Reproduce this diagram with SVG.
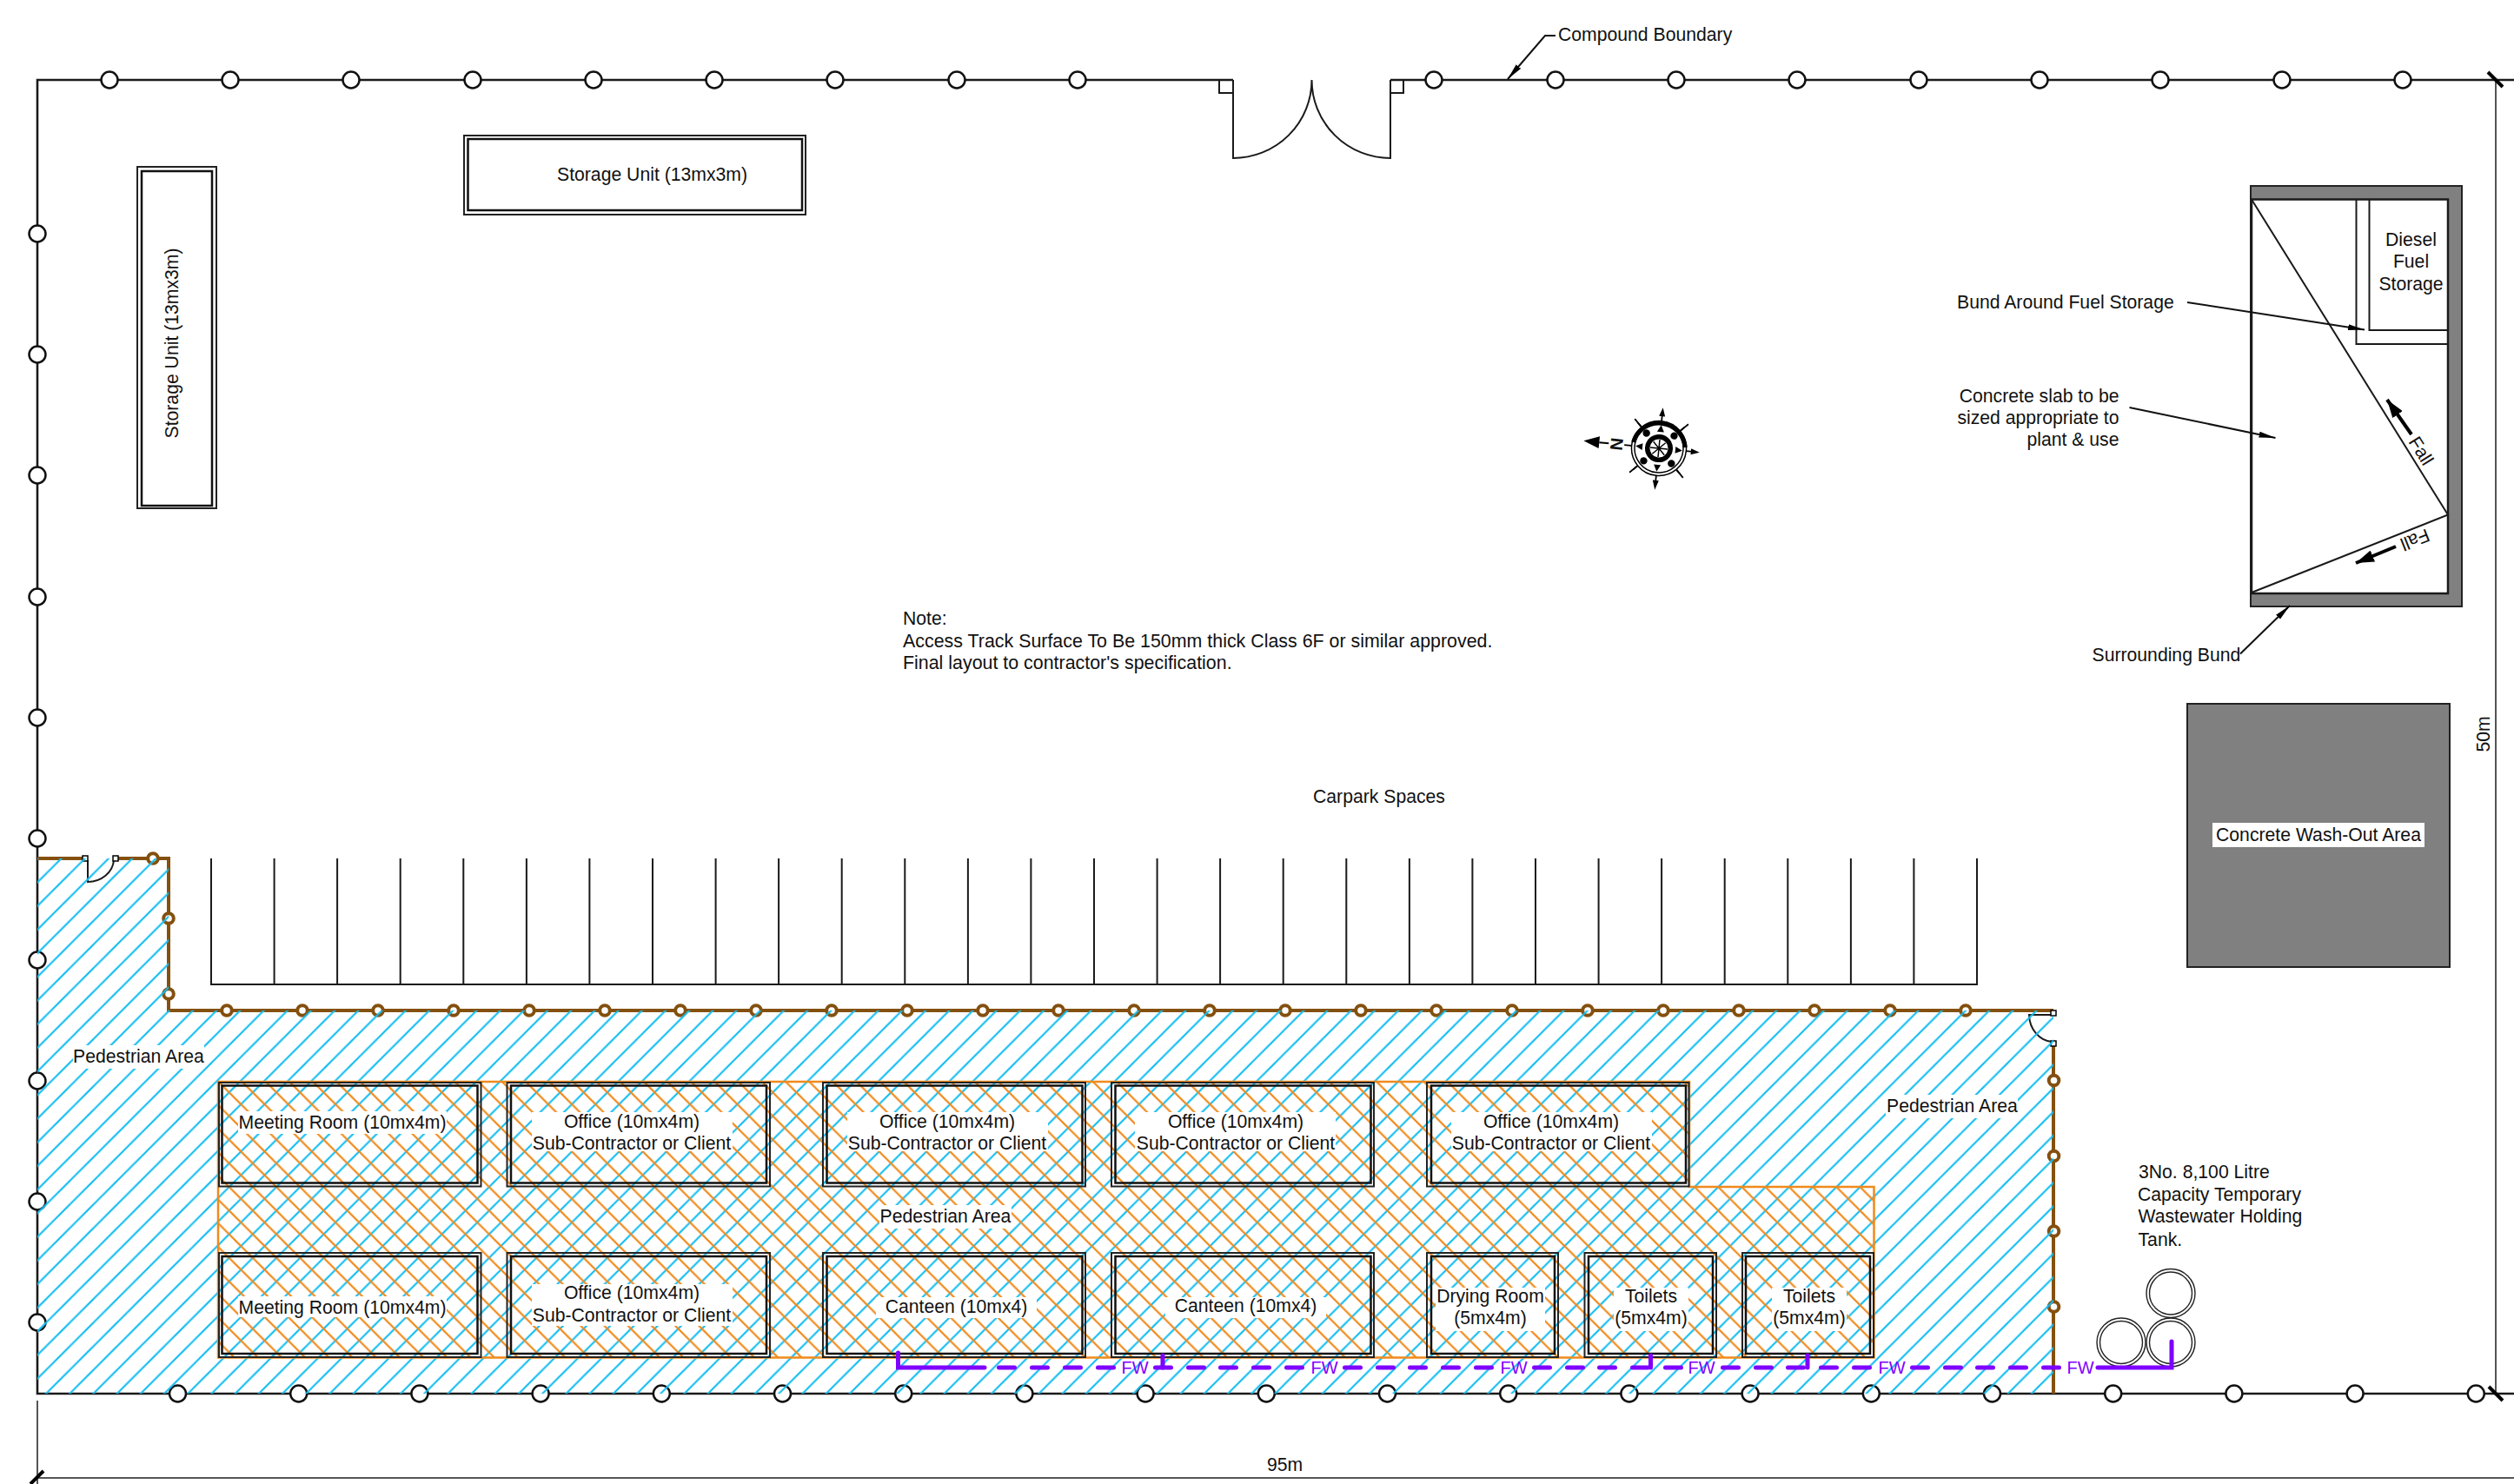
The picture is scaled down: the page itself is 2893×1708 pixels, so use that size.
<svg xmlns="http://www.w3.org/2000/svg" width="2893" height="1708" viewBox="0 0 2893 1708">
<style>
text{font-family:"Liberation Sans",Arial,sans-serif;font-size:21.2px;fill:#111}
.m{text-anchor:middle}.e{text-anchor:end}
.fw{font-size:20px;fill:#7f00ff;text-anchor:middle}
.b{fill:none;stroke:#1a1a1a;stroke-width:2.6}
.th{fill:none;stroke:#1a1a1a;stroke-width:2}
.g{fill:none;stroke:#555;stroke-width:2}
.tick{fill:none;stroke:#000;stroke-width:4}
.fc{fill:#fff;stroke:#111;stroke-width:2.5}
.br{fill:none;stroke:#84500f;stroke-width:4}
.bc{fill:#fff;stroke:#84500f;stroke-width:4}
.o{fill:none;stroke:#222;stroke-width:2}
.i{fill:none;stroke:#111;stroke-width:2.5}
.w{fill:#fff}
.p{fill:none;stroke:#7f00ff;stroke-width:5;stroke-linecap:round}
.tk{fill:none;stroke:#222;stroke-width:1.4}
.gr{fill:#808080;stroke:#222;stroke-width:2}
.ld{fill:none;stroke:#111;stroke-width:2;marker-end:url(#a)}
.fa{fill:none;stroke:#000;stroke-width:4;marker-end:url(#a2)}
</style>
<defs>
<marker id="a" markerUnits="userSpaceOnUse" markerWidth="20" markerHeight="8" refX="19" refY="4" orient="auto"><path d="M0 0.5L19 4L0 7.5Z" fill="#000"/></marker>
<marker id="a2" markerUnits="userSpaceOnUse" markerWidth="22" markerHeight="14" refX="21" refY="7" orient="auto"><path d="M0 0L21 7L0 14Z" fill="#000"/></marker>
<pattern id="hb" patternUnits="userSpaceOnUse" width="27.2" height="27.2">
<path d="M30 -5L-5 30M30 22.2L22.2 30" stroke="#14bdf2" stroke-width="2.2" fill="none"/>
</pattern>
<pattern id="ho" patternUnits="userSpaceOnUse" width="27.2" height="27.2">
<path d="M-5 9.4L30 44.4M7.8 -5L32.2 19.4" stroke="#f08a1c" stroke-width="2.2" fill="none"/>
</pattern>
</defs>
<rect width="2893" height="1708" fill="#fff"/>

<g id="compound-boundary">
<path class="b" d="M1419 92H43V1604H2893M1600 92H2893"/>
<path class="th" d="M1403 92V107H1419M1419 92V182A90.500 90 0 0 0 1509.500 92A90.500 90 0 0 0 1600 182V92M1600 107H1615V92"/>
<g>
<circle class="fc" cx="126" cy="92" r="9.500"/><circle class="fc" cx="265" cy="92" r="9.500"/><circle class="fc" cx="404" cy="92" r="9.500"/><circle class="fc" cx="544" cy="92" r="9.500"/><circle class="fc" cx="683" cy="92" r="9.500"/><circle class="fc" cx="822" cy="92" r="9.500"/><circle class="fc" cx="961" cy="92" r="9.500"/><circle class="fc" cx="1101" cy="92" r="9.500"/><circle class="fc" cx="1240" cy="92" r="9.500"/>
<circle class="fc" cx="1650" cy="92" r="9.500"/><circle class="fc" cx="1790" cy="92" r="9.500"/><circle class="fc" cx="1929" cy="92" r="9.500"/><circle class="fc" cx="2068" cy="92" r="9.500"/><circle class="fc" cx="2208" cy="92" r="9.500"/><circle class="fc" cx="2347" cy="92" r="9.500"/><circle class="fc" cx="2486" cy="92" r="9.500"/><circle class="fc" cx="2626" cy="92" r="9.500"/><circle class="fc" cx="2765" cy="92" r="9.500"/>
<circle class="fc" cx="43" cy="269" r="9.500"/><circle class="fc" cx="43" cy="408" r="9.500"/><circle class="fc" cx="43" cy="547" r="9.500"/><circle class="fc" cx="43" cy="687" r="9.500"/><circle class="fc" cx="43" cy="826" r="9.500"/><circle class="fc" cx="43" cy="965" r="9.500"/><circle class="fc" cx="43" cy="1105" r="9.500"/><circle class="fc" cx="43" cy="1244" r="9.500"/><circle class="fc" cx="43" cy="1383" r="9.500"/><circle class="fc" cx="43" cy="1522" r="9.500"/>
<circle class="fc" cx="204.500" cy="1604" r="9.500"/><circle class="fc" cx="343.700" cy="1604" r="9.500"/><circle class="fc" cx="482.900" cy="1604" r="9.500"/><circle class="fc" cx="622.100" cy="1604" r="9.500"/><circle class="fc" cx="761.300" cy="1604" r="9.500"/><circle class="fc" cx="900.500" cy="1604" r="9.500"/><circle class="fc" cx="1039.700" cy="1604" r="9.500"/><circle class="fc" cx="1178.900" cy="1604" r="9.500"/><circle class="fc" cx="1318.100" cy="1604" r="9.500"/><circle class="fc" cx="1457.300" cy="1604" r="9.500"/><circle class="fc" cx="1596.500" cy="1604" r="9.500"/><circle class="fc" cx="1735.700" cy="1604" r="9.500"/><circle class="fc" cx="1874.900" cy="1604" r="9.500"/><circle class="fc" cx="2014.100" cy="1604" r="9.500"/><circle class="fc" cx="2153.300" cy="1604" r="9.500"/><circle class="fc" cx="2292.500" cy="1604" r="9.500"/><circle class="fc" cx="2431.700" cy="1604" r="9.500"/><circle class="fc" cx="2570.900" cy="1604" r="9.500"/><circle class="fc" cx="2710.100" cy="1604" r="9.500"/><circle class="fc" cx="2849.300" cy="1604" r="9.500"/>
</g>
</g>

<g id="site-welfare-fence">
<path class="br" d="M43 988H97M134 988H194V1163H2363M2363 1202V1604"/>
<path class="th" d="M101 990V1015A30 27 0 0 0 131 990M2363 1168H2335A28 32 0 0 0 2361 1199"/>
<rect x="95" y="985" width="6" height="6" fill="#fff" stroke="#000" stroke-width="1.500"/><rect x="130" y="985" width="6" height="6" fill="#fff" stroke="#000" stroke-width="1.500"/>
<rect x="2360" y="1163" width="6" height="6" fill="#fff" stroke="#000" stroke-width="1.500"/><rect x="2360" y="1198" width="6" height="6" fill="#fff" stroke="#000" stroke-width="1.500"/>
<circle class="bc" cx="176" cy="988" r="5.800"/><circle class="bc" cx="194" cy="1057" r="5.800"/><circle class="bc" cx="194" cy="1144" r="5.800"/>
<circle class="bc" cx="261" cy="1163" r="5.800"/><circle class="bc" cx="348" cy="1163" r="5.800"/><circle class="bc" cx="435" cy="1163" r="5.800"/><circle class="bc" cx="522" cy="1163" r="5.800"/><circle class="bc" cx="609" cy="1163" r="5.800"/><circle class="bc" cx="696" cy="1163" r="5.800"/><circle class="bc" cx="783" cy="1163" r="5.800"/><circle class="bc" cx="870" cy="1163" r="5.800"/><circle class="bc" cx="957" cy="1163" r="5.800"/><circle class="bc" cx="1044" cy="1163" r="5.800"/><circle class="bc" cx="1131" cy="1163" r="5.800"/><circle class="bc" cx="1218" cy="1163" r="5.800"/><circle class="bc" cx="1305" cy="1163" r="5.800"/><circle class="bc" cx="1392" cy="1163" r="5.800"/><circle class="bc" cx="1479" cy="1163" r="5.800"/><circle class="bc" cx="1566" cy="1163" r="5.800"/><circle class="bc" cx="1653" cy="1163" r="5.800"/><circle class="bc" cx="1740" cy="1163" r="5.800"/><circle class="bc" cx="1827" cy="1163" r="5.800"/><circle class="bc" cx="1914" cy="1163" r="5.800"/><circle class="bc" cx="2001" cy="1163" r="5.800"/><circle class="bc" cx="2088" cy="1163" r="5.800"/><circle class="bc" cx="2175" cy="1163" r="5.800"/><circle class="bc" cx="2262" cy="1163" r="5.800"/>
<circle class="bc" cx="2363.500" cy="1243.500" r="5.800"/><circle class="bc" cx="2363.500" cy="1330.500" r="5.800"/><circle class="bc" cx="2363.500" cy="1417" r="5.800"/><circle class="bc" cx="2363.500" cy="1504" r="5.800"/>
</g>

<g id="hatching">
<path d="M43 988H194V1163H2363V1604H43Z" fill="url(#hb)"/>
<path d="M251 1245H1944V1366H2156.500V1562.500H251Z" fill="url(#ho)" stroke="#f08a1c" stroke-width="2.500"/>
</g>

<g id="text-backing">
<rect class="w" x="84" y="1203" width="151" height="27"/>
<rect class="w" x="2170" y="1260" width="152" height="27"/>
<rect class="w" x="1012" y="1387" width="152" height="27"/>
<rect class="w" x="274" y="1279" width="240" height="26"/>
<rect class="w" x="274" y="1492" width="240" height="24"/>
<rect class="w" x="612" y="1280" width="231" height="45"/>
<rect class="w" x="975" y="1280" width="231" height="45"/>
<rect class="w" x="1306" y="1280" width="231" height="45"/>
<rect class="w" x="1670" y="1280" width="231" height="45"/>
<rect class="w" x="612" y="1478" width="231" height="48"/>
<rect class="w" x="1008" y="1493" width="185" height="24"/>
<rect class="w" x="1341" y="1493" width="185" height="24"/>
<rect class="w" x="1652" y="1482" width="126" height="50"/>
<rect class="w" x="1857" y="1482" width="86" height="50"/>
<rect class="w" x="2039" y="1482" width="86" height="50"/>
</g>

<g id="carpark">
<path class="th" d="M243 988V1133H2275V988M315.600 988V1133M388.100 988V1133M460.700 988V1133M533.300 988V1133M605.900 988V1133M678.400 988V1133M751 988V1133M823.600 988V1133M896.100 988V1133M968.700 988V1133M1041.300 988V1133M1113.900 988V1133M1186.400 988V1133M1259 988V1133M1331.600 988V1133M1404.100 988V1133M1476.700 988V1133M1549.300 988V1133M1621.900 988V1133M1694.400 988V1133M1767 988V1133M1839.600 988V1133M1912.100 988V1133M1984.700 988V1133M2057.300 988V1133M2129.900 988V1133M2202.400 988V1133"/>
<text class="m" x="1587" y="924">Carpark Spaces</text>
</g>

<g id="storage-west"><rect class="o" x="158" y="192" width="91" height="393"/><rect class="i" x="163" y="197" width="81" height="385"/><text class="m" transform="translate(205 395) rotate(-90)">Storage Unit (13mx3m)</text></g>
<g id="storage-north"><rect class="o" x="534" y="156" width="393" height="91"/><rect class="i" x="538.500" y="160" width="384.500" height="82"/><text x="641" y="208">Storage Unit (13mx3m)</text></g>

<g id="meeting-room-1"><rect class="o" x="252" y="1246" width="301.500" height="119.500"/><rect class="i" x="255.500" y="1249.500" width="294" height="112"/><text class="m" x="394" y="1299">Meeting Room (10mx4m)</text></g>
<g id="office-1"><rect class="o" x="583.500" y="1246" width="302.500" height="119.500"/><rect class="i" x="588" y="1249.500" width="294" height="112"/><text class="m" x="727" y="1298">Office (10mx4m)</text><text class="m" x="727" y="1323">Sub-Contractor or Client</text></g>
<g id="office-2"><rect class="o" x="947" y="1246" width="302" height="119.500"/><rect class="i" x="951.500" y="1249.500" width="294" height="112"/><text class="m" x="1090" y="1298">Office (10mx4m)</text><text class="m" x="1090" y="1323">Sub-Contractor or Client</text></g>
<g id="office-3"><rect class="o" x="1279" y="1246" width="302" height="119.500"/><rect class="i" x="1283.500" y="1249.500" width="294" height="112"/><text class="m" x="1422" y="1298">Office (10mx4m)</text><text class="m" x="1422" y="1323">Sub-Contractor or Client</text></g>
<g id="office-4"><rect class="o" x="1642" y="1246" width="301.500" height="119.500"/><rect class="i" x="1647" y="1249.500" width="293" height="112"/><text class="m" x="1785" y="1298">Office (10mx4m)</text><text class="m" x="1785" y="1323">Sub-Contractor or Client</text></g>
<g id="meeting-room-2"><rect class="o" x="252" y="1442" width="301.500" height="120"/><rect class="i" x="255.500" y="1446" width="294" height="112"/><text class="m" x="394" y="1512">Meeting Room (10mx4m)</text></g>
<g id="office-5"><rect class="o" x="583.500" y="1442" width="302.500" height="120"/><rect class="i" x="588" y="1446" width="294" height="112"/><text class="m" x="727" y="1495">Office (10mx4m)</text><text class="m" x="727" y="1521">Sub-Contractor or Client</text></g>
<g id="canteen-1"><rect class="o" x="947" y="1442" width="302" height="120"/><rect class="i" x="951.500" y="1446" width="294" height="112"/><text class="m" x="1100.500" y="1511">Canteen (10mx4)</text></g>
<g id="canteen-2"><rect class="o" x="1279" y="1442" width="302" height="120"/><rect class="i" x="1283.500" y="1446" width="294" height="112"/><text class="m" x="1433.500" y="1510">Canteen (10mx4)</text></g>
<g id="drying-room"><rect class="o" x="1642" y="1442" width="151" height="120"/><rect class="i" x="1647" y="1446" width="142" height="112"/><text class="m" x="1715" y="1499">Drying Room</text><text class="m" x="1715" y="1524">(5mx4m)</text></g>
<g id="toilets-1"><rect class="o" x="1823.500" y="1442" width="151.500" height="120"/><rect class="i" x="1828" y="1446" width="143" height="112"/><text class="m" x="1900" y="1499">Toilets</text><text class="m" x="1900" y="1524">(5mx4m)</text></g>
<g id="toilets-2"><rect class="o" x="2005" y="1442" width="151" height="120"/><rect class="i" x="2009" y="1446" width="143" height="112"/><text class="m" x="2082" y="1499">Toilets</text><text class="m" x="2082" y="1524">(5mx4m)</text></g>

<g id="pedestrian-labels">
<text x="84" y="1223">Pedestrian Area</text>
<text x="2171" y="1280">Pedestrian Area</text>
<text class="m" x="1088" y="1407">Pedestrian Area</text>
</g>

<g id="labels">
<text x="1793" y="47">Compound Boundary</text>
<text x="2252" y="355">Bund Around Fuel Storage</text>
<text class="e" x="2438.500" y="462.500">Concrete slab to be</text>
<text class="e" x="2438.500" y="488">sized appropriate to</text>
<text class="e" x="2438.500" y="513">plant &amp; use</text>
<text x="2407.500" y="761">Surrounding Bund</text>
<text x="1039" y="719">Note:</text>
<text x="1039" y="745" style="font-size:21.4px">Access Track Surface To Be 150mm thick Class 6F or similar approved.</text>
<text x="1039" y="770" style="font-size:21.4px">Final layout to contractor's specification.</text>
<text x="2461" y="1356">3No. 8,100 Litre</text>
<text x="2460" y="1382">Capacity Temporary</text>
<text x="2460.500" y="1407">Wastewater Holding</text>
<text x="2460.500" y="1433.500">Tank.</text>
</g>

<g id="fuel-storage">
<path class="gr" d="M2590 214H2833V698H2590Z"/>
<rect x="2591" y="229.500" width="226" height="453.500" fill="#fff" stroke="#1a1a1a" stroke-width="2.500"/>
<path class="th" d="M2711.500 229.500V396H2817M2726.500 229.500V380H2817M2591 229.500L2817 592.500L2591 682"/>
<text class="m" x="2774.500" y="283">Diesel</text><text class="m" x="2774.500" y="308">Fuel</text><text class="m" x="2774.500" y="333.500">Storage</text>
<text class="m" transform="translate(2786 519) rotate(58)" y="7">Fall</text>
<text class="m" transform="translate(2779 621) rotate(158.400)" y="7">Fall</text>
</g>

<g id="wash-out">
<rect class="gr" x="2517" y="810" width="302" height="303"/>
<rect class="w" x="2546" y="947" width="244" height="28"/>
<text class="m" x="2668" y="968">Concrete Wash-Out Area</text>
</g>

<g id="tanks">
<circle class="tk" cx="2498" cy="1488.500" r="28"/><circle class="tk" cx="2498" cy="1488.500" r="24.500"/>
<circle class="tk" cx="2498" cy="1545" r="28"/><circle class="tk" cx="2498" cy="1545" r="24.500"/>
<circle class="tk" cx="2441" cy="1545" r="28"/><circle class="tk" cx="2441" cy="1545" r="24.500"/>
</g>

<g id="connectors">
<path class="p" d="M1033.500 1557V1574H1133M1338 1560V1574M1899.500 1560V1574M2080 1560V1574M2414 1574H2499V1544"/>
<path class="p" d="M1149.500 1574h18M1187.500 1574h18M1225.500 1574h18M1263.500 1574h18M1329.500 1574h18M1367.500 1574h18M1404.500 1574h18M1442.500 1574h18M1480.500 1574h18M1547.500 1574h18M1585.500 1574h18M1622.500 1574h18M1660.500 1574h18M1698.500 1574h18M1765.500 1574h18M1803.500 1574h18M1840.500 1574h18M1878.500 1574h18M1916.500 1574h18M1982.500 1574h18M2020.500 1574h18M2057.500 1574h18M2095.500 1574h18M2133.500 1574h18M2200.500 1574h18M2238.500 1574h18M2275.500 1574h18M2313.500 1574h18M2351.500 1574h18"/>
<text class="fw" x="1306" y="1581">FW</text><text class="fw" x="1524" y="1581">FW</text><text class="fw" x="1742" y="1581">FW</text><text class="fw" x="1958" y="1581">FW</text><text class="fw" x="2177" y="1581">FW</text><text class="fw" x="2394" y="1581">FW</text>
<path class="ld" d="M1790 41H1778L1735 91"/>
<path class="ld" d="M2517 348L2721 379.500"/>
<path class="ld" d="M2450.500 469L2618.500 504"/>
<path class="ld" d="M2578 752.500L2635 697"/>
<path class="fa" d="M2775 500L2747 460"/>
<path class="fa" d="M2757 629L2711 648"/>
</g>

<g id="north-point" transform="translate(1909 516) rotate(5.700)">
<circle r="31.500" fill="#fff" stroke="#000" stroke-width="1.500"/>
<circle r="28" fill="none" stroke="#000" stroke-width="1.500"/>
<path d="M-30 -4A30.500 30.500 0 0 1 30 -4" fill="none" stroke="#000" stroke-width="5"/>
<path d="M-22 -22L-27 -27M22 -22L27 -27M-22 22L-27 27M22 22L27 27" stroke="#000" stroke-width="1.800" fill="none"/>
<path d="M-23 -23L-31 -31M23 -23L31 -31M-23 23L-31 31M23 23L31 31" stroke="#000" stroke-width="1.800"/>
<path d="M0 -31V-40M31 0H40M0 31V40M-32 0H-40" stroke="#000" stroke-width="1.800"/>
<path d="M-3.500 -37L0 -47L3.500 -37ZM37 -3.500L47 0L37 3.500ZM-3.500 37L0 48L3.500 37ZM-69 -7L-87 0L-69 7Z" fill="#000"/>
<path d="M-58 0H-69" stroke="#000" stroke-width="2"/>
<circle r="16" fill="#000"/><circle r="10.500" fill="#fff"/>
<path d="M-10 0H10M0 -10V10M-7 -7L7 7M-7 7L7 -7" stroke="#000" stroke-width="1.500"/>
<path d="M0 -27L-4 -19H4ZM0 27L-4 19H4ZM-27 0L-19 -4V4ZM27 0L19 -4V4Z" fill="#000"/>
<circle cx="-16" cy="-16" r="4.200"/><circle cx="16" cy="-16" r="4.200"/><circle cx="-16" cy="16" r="4.200"/><circle cx="16" cy="16" r="4.200"/>
<text class="m" transform="translate(-49 0) rotate(-90)" y="7" style="font-size:20px;font-weight:bold">N</text>
</g>

<g id="dimensions">
<path class="g" d="M2872 92V1604M43 1612V1708M43 1701H2893"/>
<path class="tick" d="M35 1708L50 1693M2863 83L2880 100M2864 1596L2880 1612"/>
<text class="m" x="1478.500" y="1693">95m</text>
<text class="m" transform="translate(2865 845) rotate(-90)">50m</text>
</g>
</svg>
